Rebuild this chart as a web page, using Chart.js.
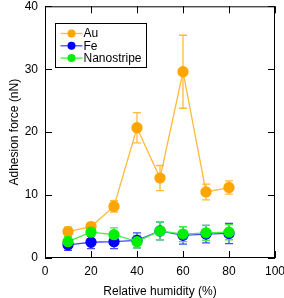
<!DOCTYPE html>
<html>
<head>
<meta charset="utf-8">
<script src="https://cdn.jsdelivr.net/npm/chart.js@4"></script>
<style>
  html, body { margin: 0; padding: 0; background: #fff; }
  #wrap { width: 284px; height: 298px; }
</style>
</head>
<body>
<div id="wrap"><canvas id="myChart" width="284" height="298"></canvas></div>
<script>
const humidity = [10, 20, 30, 40, 50, 60, 70, 80];

const auForce = [4.2, 5.0, 8.2, 20.7, 12.7, 29.6, 10.5, 11.2];
const auErr   = [0.7, 0.6, 0.9, 2.4, 2.0, 5.8, 1.25, 1.05];

const feForce = [2.1, 2.5, 2.6, 2.8, 4.3, 3.6, 3.8, 3.9];
const feErr   = [0.9, 1.0, 1.1, 1.2, 1.4, 1.4, 1.4, 1.6];

const nsForce = [2.6, 4.1, 3.7, 2.6, 4.3, 3.8, 4.0, 4.1];
const nsErr   = [0.8, 1.4, 1.1, 1.0, 1.4, 1.2, 1.2, 1.2];

const xTicks = [0, 20, 40, 60, 80, 100];
const yTicks = [0, 10, 20, 30, 40];

const FONT = 'Liberation Sans, Arial, Helvetica, sans-serif';

function pts(xs, ys) {
  return xs.map((x, i) => ({x: x, y: ys[i]}));
}

function series(label, ys, errs, color, lineColor, order) {
  return {
    label: label,
    data: pts(humidity, ys),
    errors: errs,
    borderColor: lineColor,
    backgroundColor: color,
    pointBackgroundColor: color,
    pointBorderColor: color,
    pointRadius: 5,
    pointHoverRadius: 5,
    borderWidth: 1.3,
    tension: 0,
    order: order
  };
}

// error bars, drawn through the chart's scales
const errorBars = {
  id: 'errorBars',
  beforeDatasetsDraw(chart) {
    const c = chart.ctx, xs = chart.scales.x, ys = chart.scales.y;
    c.save();
    chart.data.datasets.forEach(ds => {
      c.strokeStyle = ds.borderColor;
      c.lineWidth = 1.3;
      ds.data.forEach((p, i) => {
        const e = ds.errors[i];
        const px = xs.getPixelForValue(p.x);
        const top = ys.getPixelForValue(p.y + e);
        const bot = ys.getPixelForValue(p.y - e);
        c.beginPath();
        c.moveTo(px, top); c.lineTo(px, bot);
        c.moveTo(px - 4, top); c.lineTo(px + 4, top);
        c.moveTo(px - 4, bot); c.lineTo(px + 4, bot);
        c.stroke();
      });
    });
    c.restore();
  }
};

// frame with inward ticks on all four sides, plus the legend box
const frame = {
  id: 'frame',
  afterDraw(chart) {
    const c = chart.ctx, a = chart.chartArea, xs = chart.scales.x, ys = chart.scales.y;
    c.save();
    c.strokeStyle = '#000';
    c.lineWidth = 1;
    c.strokeRect(a.left + 0.5, a.top + 0.5, a.right - a.left - 1, a.bottom - a.top - 1);
    c.beginPath();
    xTicks.forEach(v => {
      const px = Math.round(xs.getPixelForValue(v)) + 0.5;
      c.moveTo(px, a.bottom); c.lineTo(px, a.bottom - 7);
      c.moveTo(px, a.top); c.lineTo(px, a.top + 7);
    });
    yTicks.forEach(v => {
      const py = Math.round(ys.getPixelForValue(v)) + 0.5;
      c.moveTo(a.left, py); c.lineTo(a.left + 7, py);
      c.moveTo(a.right, py); c.lineTo(a.right - 7, py);
    });
    c.stroke();

    const bx = 55.5, by = 23.5, bw = 91, bh = 44;
    c.fillStyle = '#fff';
    c.fillRect(bx, by, bw, bh);
    c.strokeRect(bx, by, bw, bh);
    c.font = '12px ' + FONT;
    c.textBaseline = 'middle';
    chart.data.datasets.forEach((ds, i) => {
      const y = by + 10 + i * 12.3;
      c.strokeStyle = ds.borderColor;
      c.lineWidth = 1.3;
      c.beginPath(); c.moveTo(bx + 5, y); c.lineTo(bx + 27, y); c.stroke();
      c.fillStyle = ds.backgroundColor;
      c.beginPath(); c.arc(bx + 16, y, 4, 0, Math.PI * 2); c.fill();
      c.fillStyle = '#000';
      c.fillText(ds.label, bx + 28, y + 0.5);
    });
    c.restore();
  }
};

const ctx = document.getElementById('myChart');

const cfg = {
  type: 'line',
  data: {
    datasets: [
      series('Au', auForce, auErr, '#ffa500', '#ffba3a', 3),
      series('Fe', feForce, feErr, '#0000ff', '#4848ff', 2),
      series('Nanostripe', nsForce, nsErr, '#00f000', '#40f040', 1)
    ]
  },
  options: {
    responsive: false,
    animation: false,
    layout: { padding: { top: 5, right: 9, left: 0, bottom: 0 } },
    plugins: { legend: { display: false }, tooltip: { enabled: false } },
    scales: {
      x: {
        type: 'linear',
        min: 0, max: 100,
        afterBuildTicks: s => { s.ticks = xTicks.map(v => ({value: v})); },
        afterFit: s => { s.height = 40; s.paddingLeft = 0; s.paddingRight = 0; },
        grid: { display: false, drawTicks: false },
        border: { display: false },
        ticks: { color: '#000', font: { family: FONT, size: 12 }, padding: 6, maxRotation: 0 },
        title: { display: true, text: 'Relative humidity (%)', color: '#000', font: { family: FONT, size: 12, lineHeight: 1 }, padding: { top: 0, bottom: 0 } }
      },
      y: {
        type: 'linear',
        min: 0, max: 40,
        afterBuildTicks: s => { s.ticks = yTicks.map(v => ({value: v})); },
        afterFit: s => { s.width = 45; s.paddingTop = 0; s.paddingBottom = 0; },
        grid: { display: false, drawTicks: false },
        border: { display: false },
        ticks: { color: '#000', font: { family: FONT, size: 12 }, padding: 7 },
        title: { display: true, text: 'Adhesion force (nN)', color: '#000', font: { family: FONT, size: 12 }, padding: { top: 7, bottom: 4 } }
      }
    }
  },
  plugins: [errorBars, frame]
};

let cht = new Chart(ctx, cfg);
</script>
</body>
</html>
